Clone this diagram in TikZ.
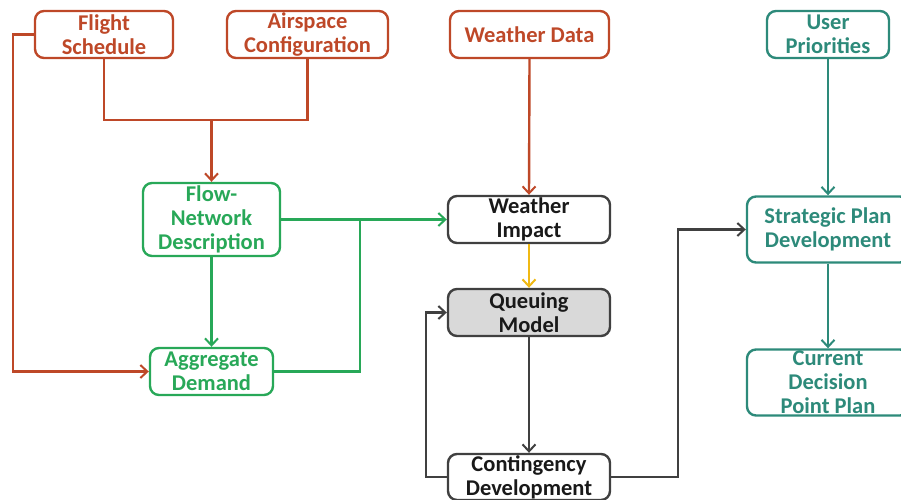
\documentclass[tikz,border=0pt]{standalone}
\usepackage{fontspec}
\setmainfont{Carlito}
\usetikzlibrary{arrows.meta}
\definecolor{rust}{RGB}{190,72,40}
\definecolor{leaf}{RGB}{40,168,88}
\definecolor{sea}{RGB}{45,138,122}
\definecolor{coal}{RGB}{64,64,64}
\definecolor{amber}{RGB}{240,185,20}
\definecolor{shade}{RGB}{217,217,217}
\tikzset{
  box/.style={draw, line width=2.4pt, rounded corners=9pt, align=center,
    inner sep=0pt, font=\fontsize{22.5}{24}\selectfont\bfseries},
  rustbox/.style={box, draw=rust, text=rust},
  leafbox/.style={box, draw=leaf, text=leaf},
  seabox/.style={box, draw=sea, text=sea},
  coalbox/.style={box, draw=coal, text=black!90},
  link/.style={line width=2.4pt},
  tip/.style={-{Straight Barb[length=7pt,width=13pt,line width=2pt]}},
}
\begin{document}
\begin{tikzpicture}[x=1pt,y=-1pt]
\useasboundingbox (0,0) rectangle (901,499);
% input boxes
\node[rustbox, minimum width=138pt, minimum height=47pt] (fs) at (104,34.5) {Flight\\Schedule};
\node[rustbox, minimum width=161pt, minimum height=47pt] (ac) at (307.5,34.5) {Airspace\\Configuration};
\node[rustbox, minimum width=159pt, minimum height=47pt] (wd) at (529.5,34.5) {Weather Data};
\node[seabox, minimum width=122pt, minimum height=47pt] (up) at (828,34.5) {User\\Priorities};
% demand side
\node[leafbox, minimum width=137pt, minimum height=73pt] (fn) at (211.5,219.5) {Flow-\\Network\\Description};
\node[leafbox, minimum width=123pt, minimum height=47pt] (ad) at (211.5,371.5) {Aggregate\\Demand};
% modelling chain
\node[coalbox, minimum width=162pt, minimum height=47pt] (wi) at (529,219.5) {Weather\\Impact};
\node[coalbox, fill=shade, minimum width=162pt, minimum height=47pt] (qm) at (529,312.5) {Queuing\\Model};
\node[coalbox, fill=white, minimum width=162pt, minimum height=46pt] (cd) at (529,477) {Contingency\\Development};
% plans
\node[seabox, minimum width=162pt, minimum height=66pt] (sp) at (828,229.5) {Strategic Plan\\Development};
\node[seabox, minimum width=162pt, minimum height=66pt] (dp) at (828,382.5) {Current\\Decision\\Point Plan};
% junctions
\coordinate (j1) at (211.5,120);
\coordinate (j2) at (360,219.5);
\coordinate (lx) at (13,0);
\coordinate (qx) at (426,0);
\coordinate (sx) at (678,0);
% schedule and airspace merge into the flow network
\draw[link, rust] (fs.south) |- (j1);
\draw[link, rust] (ac.south) |- (j1);
\draw[link, rust, tip] (j1) -- (fn.north);
\draw[link, rust, tip] (fs.west) -| (lx |- ad.west) -- (ad.west);
\draw[link, rust, tip] (wd.south) -- (wi.north);
% green flows
\draw[link, leaf, tip] (fn.east) -- (wi.west);
\draw[link, leaf, tip] (fn.south) -- (ad.north);
\draw[link, leaf] (ad.east) -| (j2);
% modelling loop
\draw[link, amber, tip] (wi.south) -- (qm.north);
\draw[link, coal, tip] (qm.south) -- (cd.north);
\draw[link, coal, tip] (cd.west) -| (qx |- qm.west) -- (qm.west);
\draw[link, coal, tip] (cd.east) -| (sx |- sp.west) -- (sp.west);
% plan chain
\draw[link, sea, tip] (up.south) -- (sp.north);
\draw[link, sea, tip] (sp.south) -- (dp.north);
\end{tikzpicture}
\end{document}
